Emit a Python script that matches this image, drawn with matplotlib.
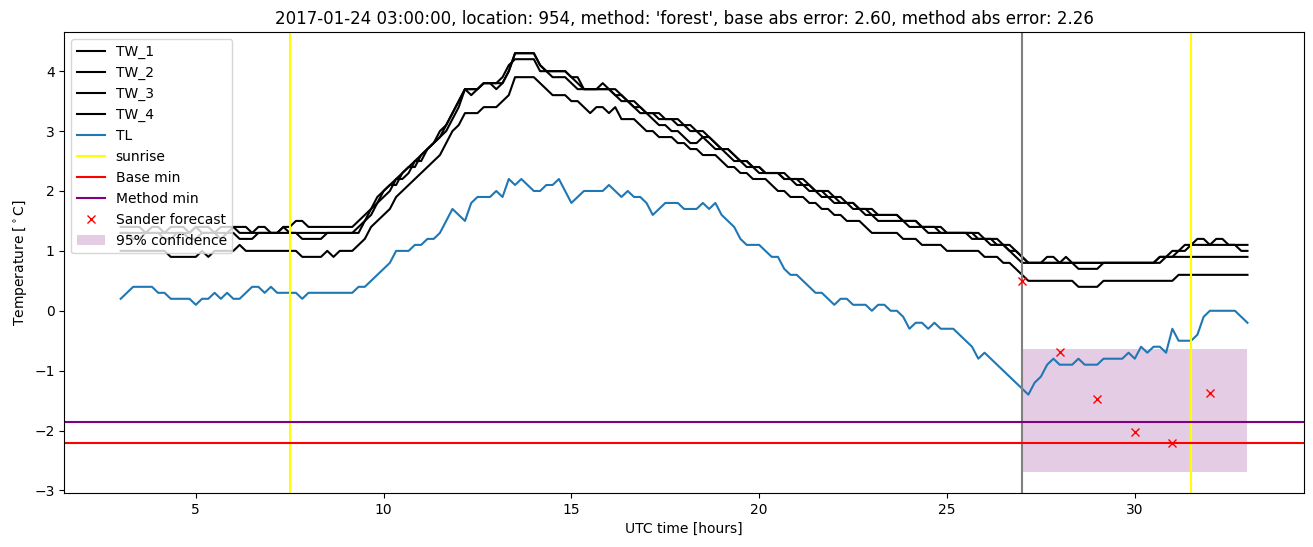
import numpy as np
import matplotlib
matplotlib.use('Agg')
import matplotlib.pyplot as plt

# 10 minute samples, 03:00 -> 33:00 UTC hours
hours = 3 + np.arange(181) / 6

tw_1 = [
    1.4, 1.4, 1.4, 1.4, 1.3, 1.4,
    1.4, 1.3, 1.4, 1.4, 1.4, 1.3,
    1.4, 1.4, 1.4, 1.3, 1.4, 1.4,
    1.4, 1.4, 1.4, 1.3, 1.4, 1.4,
    1.3, 1.3, 1.4, 1.4, 1.5, 1.5,
    1.4, 1.4, 1.4, 1.4, 1.4, 1.4,
    1.4, 1.4, 1.5, 1.6, 1.7, 1.9,
    2.0, 2.1, 2.2, 2.3, 2.4, 2.5,
    2.6, 2.7, 2.8, 3.0, 3.1, 3.3,
    3.5, 3.7, 3.6, 3.7, 3.8, 3.8,
    3.7, 3.8, 4.0, 4.3, 4.3, 4.3,
    4.3, 4.1, 4.0, 4.0, 4.0, 4.0,
    3.9, 3.9, 3.7, 3.7, 3.7, 3.8,
    3.7, 3.7, 3.6, 3.5, 3.5, 3.4,
    3.3, 3.3, 3.3, 3.2, 3.2, 3.2,
    3.1, 3.1, 3.0, 3.0, 2.9, 2.8,
    2.7, 2.7, 2.6, 2.5, 2.5, 2.4,
    2.4, 2.3, 2.3, 2.3, 2.3, 2.2,
    2.2, 2.2, 2.1, 2.0, 2.0, 2.0,
    1.9, 1.9, 1.8, 1.8, 1.7, 1.7,
    1.7, 1.6, 1.6, 1.6, 1.6, 1.5,
    1.5, 1.5, 1.4, 1.4, 1.4, 1.4,
    1.3, 1.3, 1.3, 1.3, 1.3, 1.3,
    1.2, 1.2, 1.2, 1.1, 1.1, 1.0,
    0.9, 0.8, 0.8, 0.8, 0.9, 0.9,
    0.8, 0.9, 0.8, 0.8, 0.8, 0.8,
    0.8, 0.8, 0.8, 0.8, 0.8, 0.8,
    0.8, 0.8, 0.8, 0.8, 0.9, 0.9,
    1.0, 1.0, 1.1, 1.1, 1.2, 1.2,
    1.1, 1.2, 1.2, 1.1, 1.1, 1.0,
    1.0,
]

tw_2 = [
    1.3, 1.3, 1.3, 1.3, 1.3, 1.3,
    1.3, 1.3, 1.3, 1.3, 1.3, 1.3,
    1.4, 1.3, 1.3, 1.3, 1.3, 1.3,
    1.4, 1.3, 1.3, 1.3, 1.3, 1.3,
    1.3, 1.3, 1.4, 1.3, 1.3, 1.3,
    1.3, 1.3, 1.3, 1.3, 1.3, 1.3,
    1.3, 1.3, 1.4, 1.5, 1.7, 1.8,
    2.0, 2.1, 2.1, 2.3, 2.4, 2.4,
    2.6, 2.7, 2.8, 2.9, 3.1, 3.3,
    3.5, 3.7, 3.7, 3.7, 3.8, 3.8,
    3.8, 3.9, 4.1, 4.2, 4.2, 4.2,
    4.2, 4.0, 4.0, 3.9, 3.9, 3.9,
    3.8, 3.7, 3.7, 3.7, 3.7, 3.7,
    3.7, 3.6, 3.5, 3.5, 3.4, 3.3,
    3.3, 3.2, 3.1, 3.1, 3.0, 3.0,
    2.9, 2.8, 2.8, 2.9, 2.8, 2.7,
    2.7, 2.6, 2.5, 2.5, 2.4, 2.4,
    2.3, 2.3, 2.3, 2.3, 2.2, 2.2,
    2.1, 2.1, 2.0, 2.0, 1.9, 1.9,
    1.8, 1.8, 1.8, 1.7, 1.7, 1.6,
    1.6, 1.5, 1.5, 1.5, 1.5, 1.5,
    1.4, 1.4, 1.4, 1.3, 1.3, 1.3,
    1.3, 1.3, 1.3, 1.3, 1.2, 1.2,
    1.2, 1.1, 1.1, 1.1, 1.0, 0.9,
    0.8, 0.8, 0.8, 0.8, 0.8, 0.8,
    0.8, 0.8, 0.8, 0.7, 0.7, 0.7,
    0.7, 0.8, 0.8, 0.8, 0.8, 0.8,
    0.8, 0.8, 0.8, 0.8, 0.8, 0.9,
    0.9, 1.0, 1.0, 1.1, 1.1, 1.1,
    1.1, 1.1, 1.1, 1.1, 1.1, 1.1,
    1.1,
]

tw_3 = [
    1.3, 1.3, 1.2, 1.2, 1.3, 1.3,
    1.3, 1.2, 1.2, 1.3, 1.3, 1.2,
    1.2, 1.3, 1.3, 1.3, 1.2, 1.3,
    1.3, 1.2, 1.2, 1.2, 1.3, 1.3,
    1.3, 1.3, 1.3, 1.3, 1.3, 1.2,
    1.2, 1.2, 1.2, 1.3, 1.3, 1.3,
    1.3, 1.3, 1.3, 1.5, 1.6, 1.8,
    1.9, 2.0, 2.2, 2.2, 2.3, 2.5,
    2.5, 2.7, 2.8, 2.9, 3.0, 3.2,
    3.4, 3.7, 3.7, 3.7, 3.8, 3.8,
    3.8, 3.8, 4.0, 4.3, 4.3, 4.3,
    4.3, 4.1, 4.0, 4.0, 4.0, 4.0,
    3.9, 3.8, 3.7, 3.7, 3.7, 3.7,
    3.7, 3.6, 3.6, 3.5, 3.4, 3.4,
    3.3, 3.3, 3.2, 3.2, 3.2, 3.1,
    3.1, 3.0, 3.0, 2.9, 2.9, 2.8,
    2.7, 2.7, 2.6, 2.5, 2.5, 2.4,
    2.4, 2.3, 2.3, 2.3, 2.2, 2.2,
    2.2, 2.1, 2.1, 2.0, 2.0, 1.9,
    1.9, 1.8, 1.8, 1.8, 1.7, 1.7,
    1.6, 1.6, 1.6, 1.6, 1.6, 1.5,
    1.5, 1.5, 1.4, 1.4, 1.4, 1.3,
    1.3, 1.3, 1.3, 1.3, 1.3, 1.2,
    1.2, 1.2, 1.1, 1.1, 1.0, 1.0,
    0.9, 0.8, 0.8, 0.8, 0.8, 0.8,
    0.8, 0.8, 0.8, 0.8, 0.8, 0.8,
    0.8, 0.8, 0.8, 0.8, 0.8, 0.8,
    0.8, 0.8, 0.8, 0.8, 0.9, 0.9,
    0.9, 0.9, 0.9, 0.9, 0.9, 0.9,
    0.9, 0.9, 0.9, 0.9, 0.9, 0.9,
    0.9,
]

tw_4 = [
    1.0, 1.0, 1.0, 1.0, 1.0, 1.0,
    1.0, 1.0, 0.9, 0.9, 0.9, 0.9,
    0.9, 1.0, 0.9, 1.0, 1.0, 1.0,
    1.0, 1.1, 1.0, 1.0, 1.0, 1.0,
    1.0, 1.0, 1.0, 1.0, 1.0, 0.9,
    0.9, 0.9, 0.9, 1.0, 0.9, 1.0,
    1.0, 1.0, 1.1, 1.2, 1.4, 1.5,
    1.6, 1.7, 1.9, 2.0, 2.1, 2.2,
    2.3, 2.4, 2.5, 2.6, 2.8, 3.0,
    3.1, 3.3, 3.3, 3.3, 3.4, 3.4,
    3.4, 3.5, 3.6, 3.9, 3.9, 3.9,
    3.9, 3.8, 3.7, 3.6, 3.6, 3.6,
    3.5, 3.5, 3.4, 3.3, 3.4, 3.4,
    3.3, 3.4, 3.2, 3.2, 3.2, 3.1,
    3.0, 3.0, 2.9, 2.9, 2.9, 2.8,
    2.8, 2.7, 2.7, 2.6, 2.6, 2.6,
    2.5, 2.4, 2.4, 2.3, 2.3, 2.2,
    2.2, 2.2, 2.1, 2.0, 2.0, 1.9,
    1.9, 1.9, 1.8, 1.8, 1.7, 1.7,
    1.6, 1.6, 1.5, 1.5, 1.5, 1.4,
    1.3, 1.3, 1.3, 1.3, 1.3, 1.2,
    1.2, 1.2, 1.1, 1.1, 1.1, 1.1,
    1.0, 1.0, 1.0, 1.0, 1.0, 1.0,
    0.9, 0.9, 0.9, 0.8, 0.8, 0.7,
    0.6, 0.5, 0.5, 0.5, 0.5, 0.5,
    0.5, 0.5, 0.5, 0.4, 0.4, 0.4,
    0.4, 0.5, 0.5, 0.5, 0.5, 0.5,
    0.5, 0.5, 0.5, 0.5, 0.5, 0.5,
    0.5, 0.6, 0.6, 0.6, 0.6, 0.6,
    0.6, 0.6, 0.6, 0.6, 0.6, 0.6,
    0.6,
]

tl = [
    0.2, 0.3, 0.4, 0.4, 0.4, 0.4,
    0.3, 0.3, 0.2, 0.2, 0.2, 0.2,
    0.1, 0.2, 0.2, 0.3, 0.2, 0.3,
    0.2, 0.2, 0.3, 0.4, 0.4, 0.3,
    0.4, 0.3, 0.3, 0.3, 0.3, 0.2,
    0.3, 0.3, 0.3, 0.3, 0.3, 0.3,
    0.3, 0.3, 0.4, 0.4, 0.5, 0.6,
    0.7, 0.8, 1.0, 1.0, 1.0, 1.1,
    1.1, 1.2, 1.2, 1.3, 1.5, 1.7,
    1.6, 1.5, 1.8, 1.9, 1.9, 1.9,
    2.0, 1.9, 2.2, 2.1, 2.2, 2.1,
    2.0, 2.0, 2.1, 2.1, 2.2, 2.0,
    1.8, 1.9, 2.0, 2.0, 2.0, 2.0,
    2.1, 2.0, 1.9, 2.0, 1.9, 1.9,
    1.8, 1.6, 1.7, 1.8, 1.8, 1.8,
    1.7, 1.7, 1.7, 1.8, 1.7, 1.8,
    1.6, 1.5, 1.4, 1.2, 1.1, 1.1,
    1.1, 1.0, 0.9, 0.9, 0.7, 0.6,
    0.6, 0.5, 0.4, 0.3, 0.3, 0.2,
    0.1, 0.2, 0.2, 0.1, 0.1, 0.1,
    0.0, 0.1, 0.1, 0.0, 0.0, -0.1,
    -0.3, -0.2, -0.2, -0.3, -0.2, -0.3,
    -0.3, -0.3, -0.4, -0.5, -0.6, -0.8,
    -0.7, -0.8, -0.9, -1.0, -1.1, -1.2,
    -1.3, -1.4, -1.2, -1.1, -0.9, -0.8,
    -0.9, -0.9, -0.9, -0.8, -0.9, -0.9,
    -0.9, -0.8, -0.8, -0.8, -0.8, -0.7,
    -0.8, -0.6, -0.7, -0.6, -0.6, -0.7,
    -0.3, -0.5, -0.5, -0.5, -0.4, -0.1,
    0.0, 0.0, 0.0, 0.0, 0.0, -0.1,
    -0.2,
]

sunrise_hours = [7.5, 31.5]
forecast_hour = 27
base_min = -2.2
method_min = -1.85

sander_hours = [27, 28, 29, 30, 31, 32]
sander_values = [0.49, -0.69, -1.47, -2.02, -2.21, -1.37]

conf_hours = [27, 33]
conf_low = -2.69
conf_high = -0.63

title = ("2017-01-24 03:00:00, location: 954, method: 'forest', "
         "base abs error: 2.60, method abs error: 2.26")


def main():
    fig, ax = plt.subplots(figsize=(13.13, 5.47), dpi=100)
    fig.subplots_adjust(left=0.049, right=0.993, top=0.941, bottom=0.099)

    for name, vals in [('TW_1', tw_1), ('TW_2', tw_2), ('TW_3', tw_3), ('TW_4', tw_4)]:
        ax.plot(hours, vals, color='black', label=name)
    ax.plot(hours, tl, color='tab:blue', label='TL')

    for i, h in enumerate(sunrise_hours):
        ax.axvline(h, color='yellow', label='sunrise' if i == 0 else None)
    ax.axvline(forecast_hour, color='grey')

    ax.axhline(base_min, color='red', label='Base min')
    ax.axhline(method_min, color='purple', label='Method min')

    ax.plot(sander_hours, sander_values, 'x', color='red', label='Sander forecast')
    ax.fill_between(conf_hours, conf_low, conf_high, color='purple', alpha=0.2,
                    linewidth=0, label='95% confidence')

    ax.set_title(title)
    ax.set_xlabel('UTC time [hours]')
    ax.set_ylabel(r'Temperature [$^\circ$C]')
    ax.legend(loc='upper left')

    fig.savefig('out.png')


if __name__ == '__main__':
    main()
